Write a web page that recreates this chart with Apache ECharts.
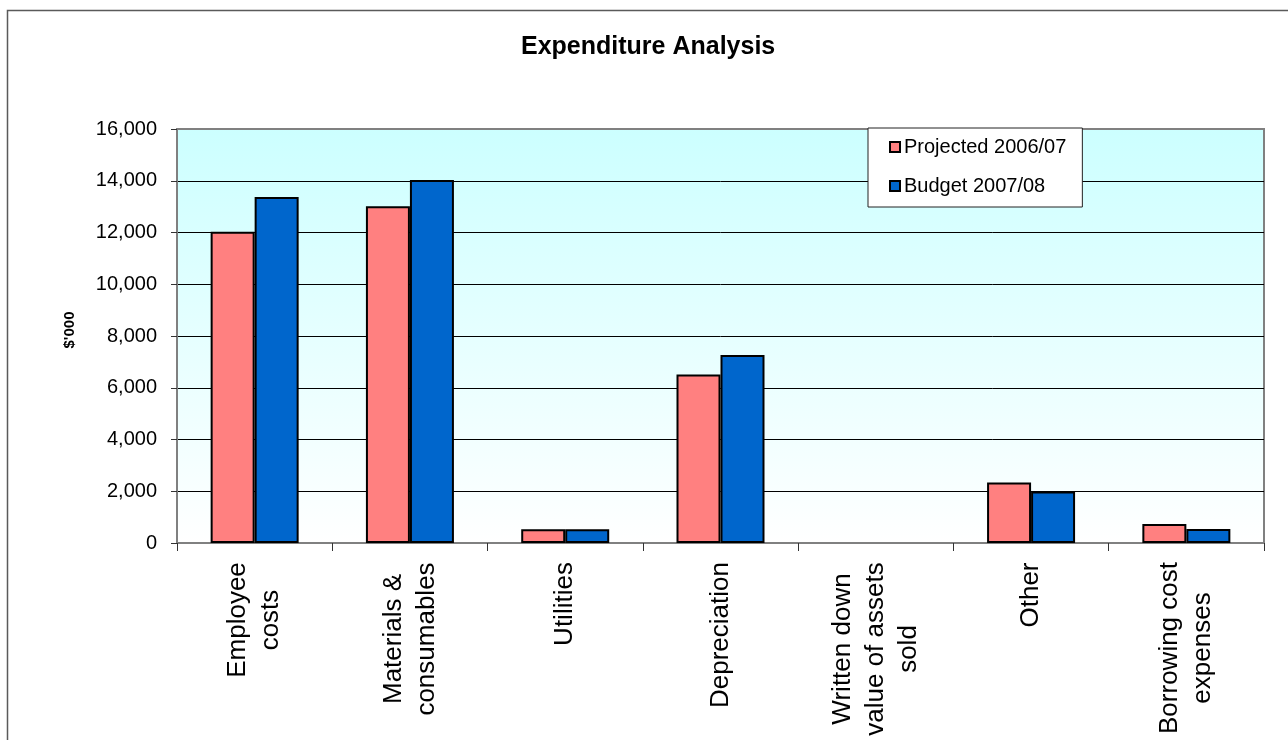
<!DOCTYPE html>
<html>
<head>
<meta charset="utf-8">
<title>Expenditure Analysis</title>
<script src="https://cdn.jsdelivr.net/npm/echarts@6/dist/echarts.min.js"></script>
<style>
  html, body { margin: 0; padding: 0; background: #ffffff; }
  #chart { width: 1288px; height: 740px; }
</style>
</head>
<body>
<div id="chart"></div>
<script>
// Expense categories ($'000)
const categories = [
  'Employee\ncosts',
  'Materials &\nconsumables',
  'Utilities',
  'Depreciation',
  'Written down\nvalue of assets\nsold',
  'Other',
  'Borrowing cost\nexpenses'
];
const seriesNames = ['Projected 2006/07', 'Budget 2007/08'];
// nothing recorded for written down value of assets sold
const projected = [12030, 13010, 530, 6510, null, 2340, 730];
const budget    = [13370, 14030, 530, 7270, null, 1990, 540];
const yMin = 0;
const yMax = 16000;
const yStep = 2000;

const FONT = '"Liberation Sans", Arial, Helvetica, sans-serif';
const LABEL_SIZE = 26;

// Each category label is a block of centred lines; measure the widest line
// so every block gets its own rich style of that width.
const measureCtx = document.createElement('canvas').getContext('2d');
measureCtx.font = LABEL_SIZE + 'px ' + FONT;
const rich = {};
categories.forEach(function (c, i) {
  const w = Math.max.apply(null, c.split('\n').map(function (l) {
    return Math.ceil(measureCtx.measureText(l).width);
  }));
  rich['c' + i] = {
    width: w + 2,
    align: 'center',
    fontSize: LABEL_SIZE,
    lineHeight: 33,
    fontFamily: FONT,
    color: '#000'
  };
});

const chart = echarts.init(document.getElementById('chart'));

chart.setOption({
  animation: false,
  backgroundColor: '#ffffff',
  textStyle: { fontFamily: FONT, color: '#000' },
  title: {
    text: 'Expenditure Analysis',
    left: 521,
    top: 35,
    padding: 0,
    textStyle: { fontSize: 25, fontWeight: 'bold', color: '#000', fontFamily: FONT }
  },
  graphic: [{
    type: 'rect',
    silent: true,
    shape: { x: 7.5, y: 10.5, width: 1400, height: 900 },
    style: { fill: 'none', stroke: '#5a5a5a', lineWidth: 1.5 },
    z: -1
  }],
  legend: {
    orient: 'vertical',
    left: 868,
    top: 128,
    padding: [9, 16, 11, 21],
    itemGap: 19,
    itemWidth: 10,
    itemHeight: 10,
    icon: 'rect',
    backgroundColor: '#ffffff',
    borderColor: '#222',
    borderWidth: 1,
    textStyle: { fontSize: 20, color: '#000', fontFamily: FONT, padding: [0, 0, 0, -1] },
    data: seriesNames
  },
  grid: {
    left: 177,
    top: 129,
    right: 24,
    bottom: 195,
    show: true,
    borderColor: '#808080',
    borderWidth: 2,
    backgroundColor: new echarts.graphic.LinearGradient(0, 0, 0, 1, [
      { offset: 0, color: '#ccffff' },
      { offset: 1, color: '#ffffff' }
    ])
  },
  xAxis: {
    type: 'category',
    data: categories,
    boundaryGap: true,
    axisLine: { show: true, lineStyle: { color: '#808080', width: 2 } },
    axisTick: { show: true, length: 8, alignWithLabel: false, lineStyle: { color: '#333', width: 1 } },
    axisLabel: {
      interval: 0,
      rotate: 90,
      margin: 18,
      formatter: function (value, index) {
        return value.split('\n').map(function (l) {
          return '{c' + index + '|' + l + '}';
        }).join('\n');
      },
      rich: rich
    },
    splitLine: { show: false }
  },
  yAxis: {
    type: 'value',
    min: yMin,
    max: yMax,
    interval: yStep,
    name: "$'000",
    nameLocation: 'middle',
    nameGap: 100,
    nameRotate: 90,
    nameTextStyle: { fontSize: 15, fontWeight: 'bold', color: '#000', fontFamily: FONT, padding: [0, 0, 0, 12] },
    axisLine: { show: true, lineStyle: { color: '#808080', width: 2 } },
    axisTick: { show: true, length: 6, lineStyle: { color: '#333', width: 1 } },
    axisLabel: {
      margin: 20,
      fontSize: 20,
      color: '#000',
      fontFamily: FONT,
      formatter: function (v) { return v.toLocaleString('en-US'); }
    },
    splitLine: {
      show: true,
      showMinLine: false,
      showMaxLine: false,
      lineStyle: { color: '#000', width: 1 }
    }
  },
  series: [
    {
      name: seriesNames[0],
      type: 'bar',
      data: projected,
      barWidth: 44,
      barGap: '0%',
      itemStyle: { color: '#ff8080', borderColor: '#000', borderWidth: 2 }
    },
    {
      name: seriesNames[1],
      type: 'bar',
      data: budget,
      barWidth: 44,
      barGap: '0%',
      itemStyle: { color: '#0066cc', borderColor: '#000', borderWidth: 2 }
    }
  ]
});
</script>
</body>
</html>
